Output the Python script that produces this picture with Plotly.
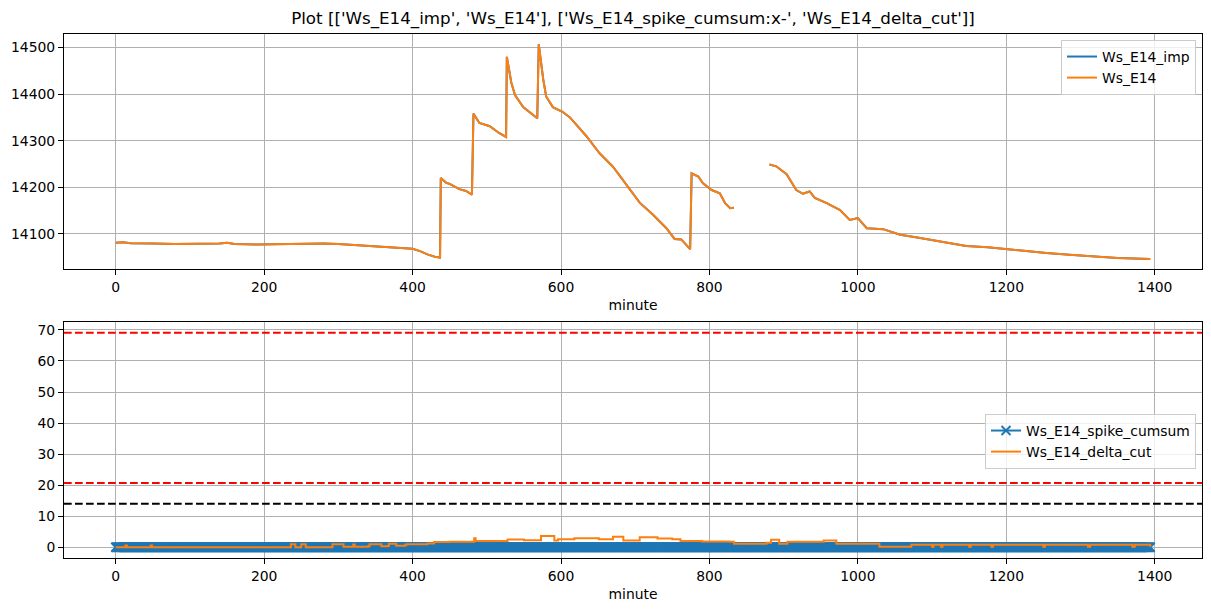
import plotly.graph_objects as go

# ---------------- data ----------------
title_text = "Plot [['Ws_E14_imp', 'Ws_E14'], ['Ws_E14_spike_cumsum:x-', 'Ws_E14_delta_cut']]"

ws_minutes = [0, 10, 20, 30, 50, 80, 120, 140, 150, 160, 190, 220, 250, 265, 280, 300, 320, 340,
              360, 375, 390, 400, 410, 420, 430, 437, 438, 445, 450, 463, 472, 480, 482, 490, 504,
              517, 526, 527, 533, 538, 549, 560, 568, 570, 576, 580, 589, 602, 612, 634, 652, 670,
              688, 706, 724, 742, 753, 762, 774, 776, 785, 791, 803, 814, 821, 828, 833, 857,
              881, 890, 904, 917, 926, 935, 942, 958, 976, 989, 1000, 1012, 1034, 1057, 1080,
              1102, 1125, 1146, 1175, 1200, 1230, 1254, 1285, 1317, 1350, 1394]
ws_values = [14081, 14082, 14080, 14080, 14079, 14078, 14078, 14079, 14081, 14078, 14077, 14078,
             14078, 14080, 14079, 14078, 14076, 14074, 14073, 14071, 14070, 14068, 14063, 14056,
             14051, 14049, 14220, 14210, 14207, 14196, 14192, 14184, 14358, 14338, 14331, 14316,
             14308, 14480, 14425, 14398, 14372, 14359, 14348, 14507, 14432, 14395, 14372, 14362,
             14350, 14310, 14273, 14244, 14206, 14167, 14141, 14112, 14089, 14088, 14067, 14230,
             14223, 14209, 14194, 14187, 14166, 14155, 14156, None,
             14249, 14245, 14228, 14194, 14186, 14191, 14177, 14166, 14151, 14130, 14134, 14112,
             14110, 14098, 14092, 14086, 14080, 14074, 14071, 14067, 14062, 14059, 14055, 14051,
             14048, 14046]
ws_imp_values = list(ws_values)

minutes = list(range(0, 1395))
spike_cumsum = [0] * len(minutes)

delta_minutes = [0, 12, 13, 15, 46, 47, 49, 234, 236, 242, 248, 250, 256, 290, 292, 305, 307,
                 318, 320, 322, 340, 342, 356, 358, 366, 368, 376, 378, 390, 392, 420, 429,
                 450, 478, 483, 485, 510, 528, 550, 573, 591, 596, 618, 651, 670, 684, 706, 730,
                 750, 761, 790, 827, 833, 877, 883, 894, 905, 954, 971, 1020, 1029, 1070, 1072,
                 1100, 1102, 1112, 1114, 1150, 1152, 1180, 1182, 1250, 1252, 1310, 1313, 1370,
                 1373, 1394]
delta_values = [0, 0, 0.6, 0, 0, 0.6, 0, 0, 1.0, 0, 0, 1.0, 0, 0, 1.0, 1.0, 0.2,
                0.2, 0.9, 0.2, 0.3, 1.0, 1.0, 0.3, 0.4, 1.1, 1.1, 0.5, 0.8, 1.0, 1.2, 1.7,
                1.8, 1.8, 2.9, 2.0, 2.0, 2.5, 2.3, 3.6, 2.2, 2.6, 2.9, 2.6, 3.4, 2.2, 3.2, 2.8,
                2.6, 2.0, 1.9, 1.8, 1.1, 1.5, 2.4, 1.1, 1.8, 2.2, 1.1, 1.1, 0.2, 0.2, 0.8,
                0.2, 0.8, 0.2, 0.8, 0.2, 0.8, 0.2, 0.8, 0.2, 0.8, 0.2, 0.8, 0.2,
                0.8, 0.2]

red_levels = [69.1, 20.7]
black_level = 14.0

x_ticks = [0, 200, 400, 600, 800, 1000, 1200, 1400]
top_y_ticks = [14100, 14200, 14300, 14400, 14500]
bottom_y_ticks = [0, 10, 20, 30, 40, 50, 60, 70]

# ---------------- styling ----------------
W, H = 1211, 611
OFF = 8  # page body margin offset
C0, C1 = "#1f77b4", "#ff7f0e"
FONT = "DejaVu Sans"
FS = 13.9


def px_x(p):
    return (p - OFF) / W


def px_y(p):
    return 1 - (p - OFF) / H


x_dom = [px_x(64), px_x(1202)]
top_dom = [px_y(269), px_y(34)]
bot_dom = [px_y(558), px_y(322)]

fig = go.Figure()

fig.add_trace(go.Scatter(x=ws_minutes, y=ws_imp_values, mode="lines", name="Ws_E14_imp",
                         line=dict(color=C0, width=2), xaxis="x", yaxis="y", legend="legend"))
fig.add_trace(go.Scatter(x=ws_minutes, y=ws_values, mode="lines", name="Ws_E14",
                         line=dict(color=C1, width=2), xaxis="x", yaxis="y", legend="legend"))

fig.add_trace(go.Scatter(x=minutes, y=spike_cumsum, mode="lines+markers", name="Ws_E14_spike_cumsum",
                         line=dict(color=C0, width=2),
                         marker=dict(symbol="x-thin", size=9, color=C0, line=dict(color=C0, width=2)),
                         xaxis="x2", yaxis="y2", legend="legend2"))
fig.add_trace(go.Scatter(x=delta_minutes, y=delta_values, mode="lines", name="Ws_E14_delta_cut",
                         line=dict(color=C1, width=2, shape="hv"), xaxis="x2", yaxis="y2",
                         legend="legend2"))

for lvl in red_levels:
    fig.add_shape(type="line", xref="x2 domain", yref="y2", x0=0, x1=1, y0=lvl, y1=lvl,
                  line=dict(color="red", width=2, dash="7.7px,3.3px"))
fig.add_shape(type="line", xref="x2 domain", yref="y2", x0=0, x1=1, y0=black_level, y1=black_level,
              line=dict(color="black", width=2, dash="7.7px,3.3px"))

axis_common = dict(showline=True, linecolor="black", linewidth=1, mirror=True,
                   ticks="outside", ticklen=5, tickwidth=1, tickcolor="black",
                   showgrid=True, gridcolor="#b0b0b0", gridwidth=1, zeroline=False,
                   automargin=False, tickformat="d",
                   tickfont=dict(family=FONT, size=FS, color="black"))

fig.update_layout(
    width=W, height=H,
    margin=dict(l=0, r=0, t=0, b=0, autoexpand=False),
    paper_bgcolor="white", plot_bgcolor="white",
    font=dict(family=FONT, size=FS, color="black"),
    title=dict(text=title_text, x=px_x(633), xanchor="center", y=px_y(18), yanchor="middle",
               automargin=False, font=dict(family=FONT, size=16.7, color="black")),
    xaxis=dict(domain=x_dom, anchor="y", range=[-69.7, 1463.7], tickvals=x_ticks,
               title=dict(text="minute", standoff=6, font=dict(family=FONT, size=FS)), **axis_common),
    yaxis=dict(domain=top_dom, anchor="x", range=[14024.5, 14529], tickvals=top_y_ticks, **axis_common),
    xaxis2=dict(domain=x_dom, anchor="y2", range=[-69.7, 1463.7], tickvals=x_ticks,
                title=dict(text="minute", standoff=6, font=dict(family=FONT, size=FS)), **axis_common),
    yaxis2=dict(domain=bot_dom, anchor="x2", range=[-3.45, 72.55], tickvals=bottom_y_ticks, **axis_common),
    legend=dict(x=px_x(1196), xanchor="right", y=px_y(40), yanchor="top",
                bgcolor="rgba(255,255,255,0.8)", bordercolor="#cccccc", borderwidth=1,
                font=dict(family=FONT, size=FS), tracegroupgap=0),
    legend2=dict(x=px_x(1196), xanchor="right", y=px_y(414), yanchor="top",
                 bgcolor="rgba(255,255,255,0.8)", bordercolor="#cccccc", borderwidth=1,
                 font=dict(family=FONT, size=FS), tracegroupgap=0),
    showlegend=True,
)

fig.write_html("out.html")
